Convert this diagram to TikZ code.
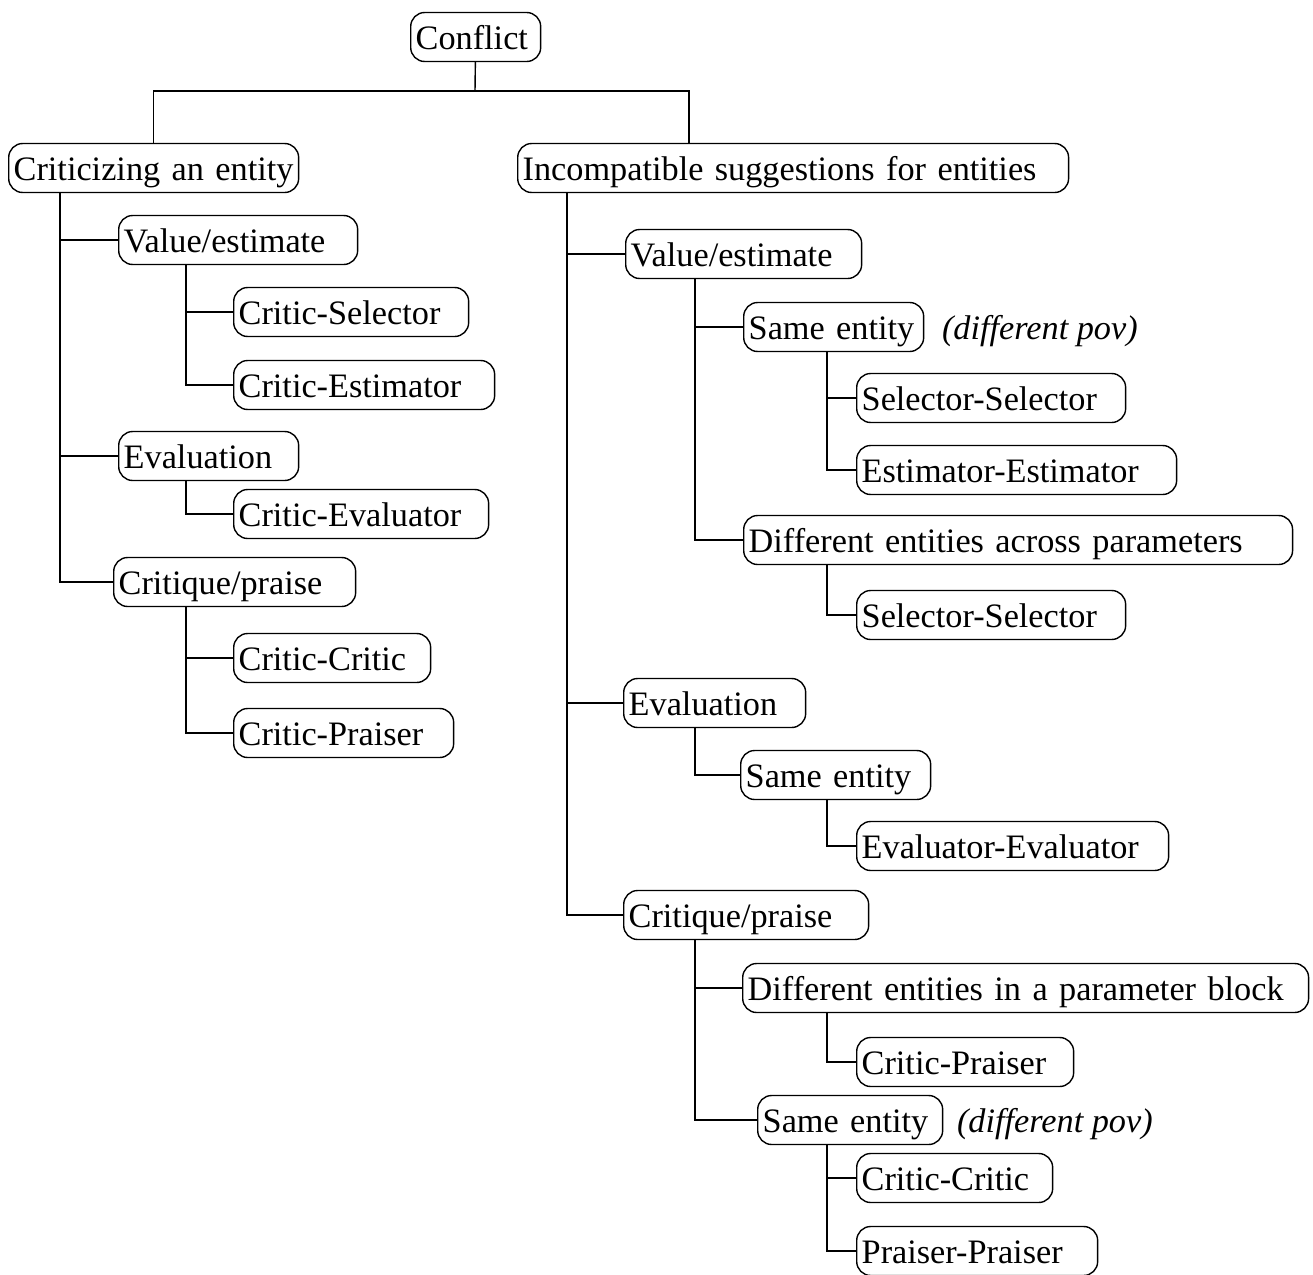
\documentclass[tikz,border=0pt]{standalone}
\usepackage{fontspec}
\setmainfont{Liberation Serif}
\tikzset{
  box/.style={draw, rounded corners=0.28cm, anchor=west, align=left,
    inner xsep=0.1cm, inner ysep=0pt, minimum height=0.98cm,
    text height=0.62cm, text depth=0.14cm, text width=#1},
  pov/.style={anchor=base west, inner sep=0pt, font=\fontsize{19.5}{23}\selectfont\itshape}
}
\begin{document}
\begin{tikzpicture}[x=0.02cm, y=-0.02cm, line width=0.8pt, font=\fontsize{19.5}{23}\selectfont]
  \useasboundingbox (0,0) rectangle (1313,1275);

  % Racine
  \node[box=2.40cm] (conflict) at (410,37) {Conflict};
  \node[box=5.60cm] (crit) at (8,168) {Criticizing an entity};
  \node[box=10.82cm] (incomp) at (517,168) {Incompatible suggestions for entities};
  \coordinate (jn) at (475,91);
  \coordinate (rtop) at (689,143);
  \draw (conflict) -- (jn);
  \draw (crit.north) |- (jn) -| (rtop);

  % Branche gauche
  \node[box=4.58cm] (lval) at (118,240) {Value/estimate};
  \node[box=4.50cm] (lcsel) at (233,312) {Critic-Selector};
  \node[box=5.02cm] (lcest) at (233,385) {Critic-Estimator};
  \node[box=3.40cm] (leval) at (118,456) {Evaluation};
  \node[box=4.90cm] (lceval) at (233,514) {Critic-Evaluator};
  \node[box=4.64cm] (lcrit) at (113,582) {Critique/praise};
  \node[box=3.74cm] (lcc) at (233,658) {Critic-Critic};
  \node[box=4.20cm] (lcp) at (233,733) {Critic-Praiser};

  \coordinate (lx) at (60,0);
  \coordinate (lx2) at (186,0);
  \draw (crit.south -| lx) |- (lval.west);
  \draw (crit.south -| lx) |- (leval.west);
  \draw (crit.south -| lx) |- (lcrit.west);
  \draw (lval.south -| lx2) |- (lcsel.west);
  \draw (lval.south -| lx2) |- (lcest.west);
  \draw (leval.south -| lx2) |- (lceval.west);
  \draw (lcrit.south -| lx2) |- (lcc.west);
  \draw (lcrit.south -| lx2) |- (lcp.west);

  % Branche droite : valeur
  \node[box=4.52cm] (rval) at (625,254) {Value/estimate};
  \node[box=3.40cm] (rsame) at (743,327) {Same entity};
  \node[pov] (rpov) at ([xshift=0.34cm]rsame.base east) {(different pov)};
  \node[box=5.18cm] (rss) at (856,398) {Selector-Selector};
  \node[box=6.20cm] (ree) at (856,470) {Estimator-Estimator};
  \node[box=10.78cm] (rdiff) at (743,540) {Different entities across parameters};
  \node[box=5.18cm] (rss2) at (856,615) {Selector-Selector};

  % Branche droite : evaluation
  \node[box=3.44cm] (reval) at (623,703) {Evaluation};
  \node[box=3.60cm] (rsame2) at (740,775) {Same entity};
  \node[box=6.04cm] (revev) at (856,846) {Evaluator-Evaluator};

  % Branche droite : critique
  \node[box=4.70cm] (rcrit) at (623,915) {Critique/praise};
  \node[box=11.12cm] (rdiffb) at (742,988) {Different entities in a parameter block};
  \node[box=4.14cm] (rcp) at (856,1062) {Critic-Praiser};
  \node[box=3.50cm] (rsame3) at (757,1120) {Same entity};
  \node[pov] (rpov2) at ([xshift=0.26cm]rsame3.base east) {(different pov)};
  \node[box=3.72cm] (rcc) at (856,1178) {Critic-Critic};
  \node[box=4.62cm] (rpp) at (856,1251) {Praiser-Praiser};

  \coordinate (rx) at (567,0);
  \coordinate (rx2) at (695,0);
  \coordinate (rx3) at (827,0);
  \draw (incomp.south -| rx) |- (rval.west);
  \draw (incomp.south -| rx) |- (reval.west);
  \draw (incomp.south -| rx) |- (rcrit.west);
  \draw (rval.south -| rx2) |- (rsame.west);
  \draw (rval.south -| rx2) |- (rdiff.west);
  \draw (rsame.south -| rx3) |- (rss.west);
  \draw (rsame.south -| rx3) |- (ree.west);
  \draw (rdiff.south -| rx3) |- (rss2.west);
  \draw (reval.south -| rx2) |- (rsame2.west);
  \draw (rsame2.south -| rx3) |- (revev.west);
  \draw (rcrit.south -| rx2) |- (rdiffb.west);
  \draw (rcrit.south -| rx2) |- (rsame3.west);
  \draw (rdiffb.south -| rx3) |- (rcp.west);
  \draw (rsame3.south -| rx3) |- (rcc.west);
  \draw (rsame3.south -| rx3) |- (rpp.west);
\end{tikzpicture}
\end{document}
